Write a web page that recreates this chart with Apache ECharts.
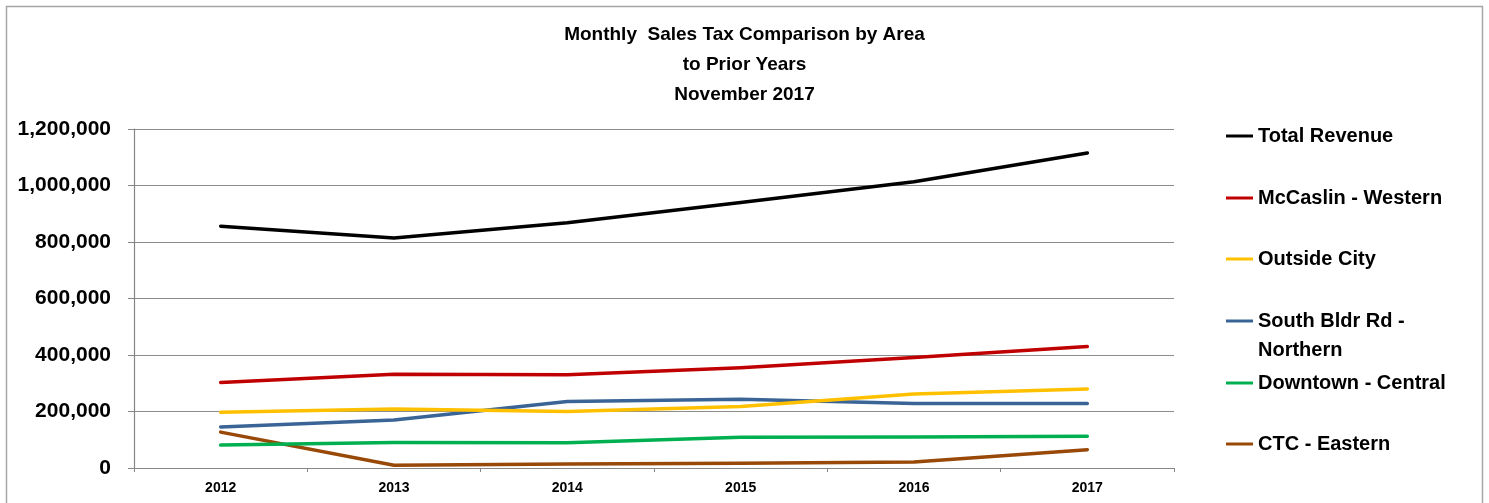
<!DOCTYPE html>
<html>
<head>
<meta charset="utf-8">
<script src="https://cdn.jsdelivr.net/npm/echarts@6/dist/echarts.min.js"></script>
<style>html,body{margin:0;padding:0;background:#fff;}#c{width:1489px;height:503px;}</style>
</head>
<body>
<div id="c"></div>
<script>
const years = ['2012','2013','2014','2015','2016','2017'];
const totalRevenue = [856000, 814000, 868000, 940000, 1013000, 1115000];
const mccaslinWestern = [303000, 332000, 330000, 355000, 391000, 430000];
const outsideCity = [197000, 209000, 200000, 218000, 262000, 280000];
const southBldrNorthern = [145000, 170000, 235000, 243000, 228000, 228000];
const downtownCentral = [81000, 90000, 89000, 109000, 110000, 112000];
const ctcEastern = [127000, 10000, 14000, 17000, 21000, 65000];
const yTicks = [0, 200000, 400000, 600000, 800000, 1000000, 1200000];

const names = ['Total Revenue','McCaslin - Western','Outside City','South Bldr Rd - Northern','Downtown - Central','CTC - Eastern'];
const colors = ['#000000','#C00000','#FFC000','#3A6496','#00B050','#984807'];
const dataSets = [totalRevenue, mccaslinWestern, outsideCity, southBldrNorthern, downtownCentral, ctcEastern];
const legendCenters = [135, 197, 258, 320, 382, 443];

const FONT = '"Liberation Sans", Arial, sans-serif';
const chart = echarts.init(document.getElementById('c'), null, {renderer:'canvas'});

const legends = names.map((n, i) => {
  const twoLine = n === 'South Bldr Rd - Northern';
  return {
    data: [n],
    left: 1226,
    top: legendCenters[i] - 11,
    padding: 0,
    orient: 'vertical',
    icon: 'rect',
    itemWidth: 27,
    itemHeight: 3,
    selectedMode: false,
    formatter: twoLine ? 'South Bldr Rd -' : '{name}',
    textStyle: {color: '#000', fontFamily: FONT, fontWeight: 'bold', fontSize: 20, lineHeight: 24}
  };
});

chart.setOption({
  animation: false,
  backgroundColor: '#fff',
  title: {
    text: 'Monthly  Sales Tax Comparison by Area\nto Prior Years\nNovember 2017',
    left: 'center',
    top: 15,
    textStyle: {fontFamily: FONT, fontWeight: 'bold', fontSize: 19, color: '#000', lineHeight: 30}
  },
  legend: legends,
  graphic: [{
    type: 'rect',
    shape: {x: 6.5, y: 6.5, width: 1476, height: 520},
    style: {fill: 'none', stroke: '#a6a6a6', lineWidth: 1.5},
    silent: true, z: -1
  }, {
    type: 'text',
    left: 1258,
    top: 340,
    style: {text: 'Northern', fill: '#000', font: 'bold 20px ' + FONT},
    silent: true
  }],
  grid: {left: 134, right: 315, top: 129, bottom: 35, containLabel: false},
  xAxis: {
    type: 'category',
    data: years,
    boundaryGap: true,
    axisLine: {show: true, lineStyle: {color: '#868686', width: 1.2}},
    axisTick: {show: true, length: 4, inside: false, lineStyle: {color: '#868686'}},
    axisLabel: {margin: 13, fontFamily: FONT, fontWeight: 'bold', fontSize: 14, color: '#000'},
    splitLine: {show: false}
  },
  yAxis: {
    type: 'value',
    min: yTicks[0],
    max: yTicks[yTicks.length - 1],
    interval: 200000,
    axisLine: {show: true, lineStyle: {color: '#868686', width: 1.2}},
    axisTick: {show: true, length: 6, inside: false, lineStyle: {color: '#868686'}},
    axisLabel: {
      margin: 23, fontFamily: FONT, fontWeight: 'bold', fontSize: 21, color: '#000',
      formatter: v => v.toLocaleString('en-US')
    },
    splitLine: {show: true, lineStyle: {color: '#8c8c8c', width: 1}}
  },
  series: names.map((n, i) => ({
    name: n,
    type: 'line',
    data: dataSets[i],
    symbol: 'none',
    showSymbol: false,
    lineStyle: {color: colors[i], width: 3.5, cap: 'round', join: 'round'},
    itemStyle: {color: colors[i]},
    emphasis: {disabled: true},
    z: 10 - i
  }))
});
</script>
</body>
</html>
